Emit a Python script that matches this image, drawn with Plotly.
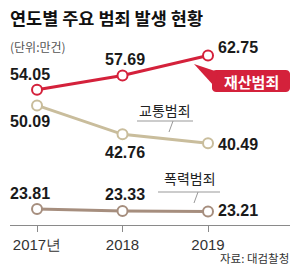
import plotly.graph_objects as go
import math

years = [2017, 2018, 2019]
year_labels = ["2017년", "2018", "2019"]
property_crime = [54.05, 57.69, 62.75]
traffic_crime = [50.09, 42.76, 40.49]
violent_crime = [23.81, 23.33, 23.21]

RED = "#d4213b"
BEIGE = "#c9bd9c"
BROWN = "#a68e7e"
KFONT = "Noto Sans CJK KR"
NFONT = "Liberation Sans"

W, H = 300, 274
ML, MR, MT, MB = 10, 10, 0, 49

def px(x, y):
    return (x - ML) / (W - ML - MR), (H - MB - y) / (H - MT - MB)

fig = go.Figure()
series = [
    (property_crime, RED, 3),
    (traffic_crime, BEIGE, 3),
    (violent_crime, BROWN, 3),
]
for vals, col, lw in series:
    fig.add_trace(go.Scatter(
        x=years, y=vals, mode="lines+markers",
        line=dict(color=col, width=lw),
        marker=dict(size=10, color="white", line=dict(color=col, width=2)),
        hoverinfo="skip", showlegend=False,
    ))

offsets = {
    0: [(-7, 15), (-7, -16), (-7, 16)],
    1: [(2, 16), (2, -18), (2, 17)],
}
annotations = []
for si, (vals, col, lw) in enumerate(series):
    for i, (yr, v) in enumerate(zip(years, vals)):
        txt = f"{v:.2f}"
        if i < 2:
            dx, dy = offsets[i][si]
            annotations.append(dict(x=yr, y=v, text=txt, showarrow=False,
                                    xshift=dx, yshift=dy, xanchor="center",
                                    font=dict(family=NFONT, size=16, color="#1a1a1a", weight="bold")))
        else:
            dy = [8, -1, 1][si]
            annotations.append(dict(x=yr, y=v, text=txt, showarrow=False,
                                    xshift=8, yshift=dy, xanchor="left",
                                    font=dict(family=NFONT, size=16, color="#1a1a1a", weight="bold")))

def ann_px(x, y, text, size, color, xanchor="left", weight="normal", family=KFONT):
    xp, yp = px(x, y)
    annotations.append(dict(x=xp, y=yp, xref="paper", yref="paper", text=text,
                            showarrow=False, xanchor=xanchor, yanchor="middle",
                            font=dict(family=family, size=size, color=color, weight=weight)))

ann_px(8, 18, "연도별 주요 범죄 발생 현황", 17.5, "#111", weight="bold")
ann_px(8, 46, "(단위:만건)", 12, "#555")
ann_px(251, 81, "재산범죄", 15, "white", xanchor="center", weight="bold")
ann_px(165, 110, "교통범죄", 14, "#222", xanchor="center")
ann_px(190, 178, "폭력범죄", 14, "#222", xanchor="center")
ann_px(291, 258, "자료: 대검찰청", 11.5, "#333", xanchor="right")

shapes = []
def line_px(x0, y0, x1, y1, color="#999", width=1):
    a, b = px(x0, y0)
    c, d = px(x1, y1)
    shapes.append(dict(type="line", xref="paper", yref="paper", x0=a, y0=b, x1=c, y1=d,
                       line=dict(color=color, width=width)))

def path_px(points, fill):
    parts = []
    for k, (x, y) in enumerate(points):
        a, b = px(x, y)
        parts.append(("M" if k == 0 else "L") + f"{a:.5f},{b:.5f}")
    shapes.append(dict(type="path", xref="paper", yref="paper", path=" ".join(parts) + " Z",
                       fillcolor=fill, line=dict(width=0)))

r = 4
x0, x1, y0, y1 = 212, 290, 70, 92
pts = []
for cx, cy, a0 in [(x1 - r, y0 + r, -90), (x1 - r, y1 - r, 0), (x0 + r, y1 - r, 90), (x0 + r, y0 + r, 180)]:
    for k in range(7):
        ang = math.radians(a0 + k * 15)
        pts.append((cx + r * math.cos(ang), cy + r * math.sin(ang)))
path_px(pts, RED)
path_px([(194, 64), (218, 72), (214, 86)], RED)

line_px(137, 121, 193, 121)
line_px(173, 121, 169, 132)
line_px(158, 192, 220, 192)
line_px(198, 192, 194, 203)

fig.update_layout(
    width=W, height=H,
    margin=dict(l=ML, r=MR, t=MT, b=MB),
    paper_bgcolor="white", plot_bgcolor="white",
    annotations=annotations, shapes=shapes,
    xaxis=dict(range=[2016.684, 2019.959], tickvals=years, ticktext=year_labels,
               showgrid=False, zeroline=False, showline=True, linecolor="#8a8a8a", linewidth=1,
               ticks="outside", ticklen=6, tickcolor="#8a8a8a",
               tickfont=dict(family=NFONT, size=15, color="#333"), fixedrange=True),
    yaxis=dict(range=[19.78, 76.82], visible=False, fixedrange=True),
)
fig.write_html("out.html")
